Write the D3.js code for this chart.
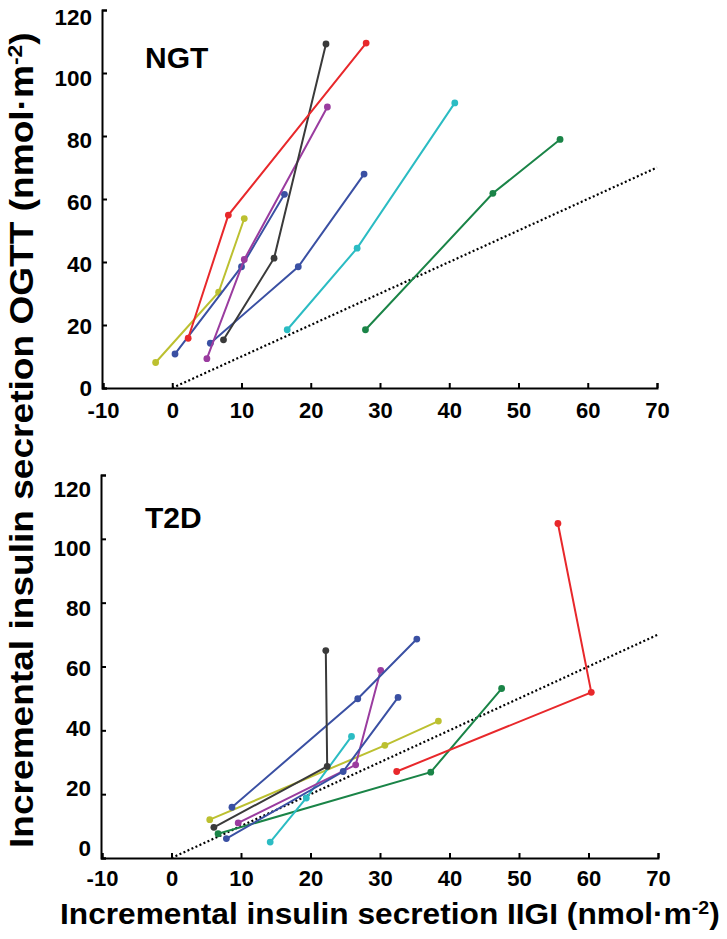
<!DOCTYPE html>
<html>
<head>
<meta charset="utf-8">
<script src="https://cdn.jsdelivr.net/npm/d3@7"></script>
<style>
  html, body { margin: 0; padding: 0; background: #fff; }
  svg { display: block; }
  text { font-family: "Liberation Sans", Arial, sans-serif; font-weight: bold; fill: #000; }
</style>
</head>
<body>
<svg id="chart" width="727" height="939"></svg>
<script>
// ---------- data ----------
const xTicks = [-10, 0, 10, 20, 30, 40, 50, 60, 70];
const yTicks = [0, 20, 40, 60, 80, 100, 120];
const panelNames = ["NGT", "T2D"];
const identityLine = [[0, 0], [70, 70]];

const seriesColors = {
  red: "#e8282b", olive: "#bcc030", blue: "#3a50a3", purple: "#9a3c9f",
  gray: "#3a3a3a", cyan: "#2bbcc3", green: "#1a8447"
};

// NGT panel: points [IIGI, OGTT]
const ngtRed    = [[2.3, 15.8], [8.1, 54.9], [28.0, 109.5]];
const ngtOlive  = [[-2.4, 8.1], [6.7, 30.4], [10.4, 53.8]];
const ngtBlue1  = [[0.4, 10.8], [10.0, 38.5], [16.2, 61.5]];
const ngtPurple = [[5.0, 9.3], [10.4, 40.8], [22.4, 89.2]];
const ngtBlue2  = [[5.5, 14.2], [18.2, 38.5], [27.7, 67.9]];
const ngtGray   = [[7.4, 15.3], [14.7, 41.2], [22.2, 109.2]];
const ngtCyan   = [[16.6, 18.5], [26.7, 44.4], [40.8, 90.5]];
const ngtGreen  = [[27.9, 18.5], [46.3, 61.8], [56.0, 78.9]];

// T2D panel
const t2dGray   = [[6.1, 9.6], [22.4, 28.7], [22.2, 65.0]];
const t2dBlue1  = [[8.7, 15.9], [26.8, 49.9], [35.3, 68.6]];
const t2dBlue2  = [[7.9, 6.1], [24.7, 27.1], [32.6, 50.3]];
const t2dOlive  = [[5.5, 12.0], [30.7, 35.3], [38.4, 42.9]];
const t2dPurple = [[9.6, 11.0], [26.5, 29.2], [30.1, 58.8]];
const t2dCyan   = [[14.2, 5.0], [19.4, 18.8], [25.9, 38.1]];
const t2dGreen  = [[6.7, 7.6], [37.3, 26.9], [47.5, 53.1]];
const t2dRed    = [[32.4, 27.1], [60.4, 51.9], [55.6, 104.8]];

const ngtSeries = [
  { pts: ngtOlive, color: "olive" }, { pts: ngtBlue1, color: "blue" },
  { pts: ngtBlue2, color: "blue" }, { pts: ngtPurple, color: "purple" },
  { pts: ngtGray, color: "gray" }, { pts: ngtRed, color: "red" },
  { pts: ngtCyan, color: "cyan" }, { pts: ngtGreen, color: "green" }
];
const t2dSeries = [
  { pts: t2dGreen, color: "green" }, { pts: t2dOlive, color: "olive" },
  { pts: t2dCyan, color: "cyan" }, { pts: t2dPurple, color: "purple" },
  { pts: t2dBlue2, color: "blue" }, { pts: t2dBlue1, color: "blue" },
  { pts: t2dGray, color: "gray" }, { pts: t2dRed, color: "red" }
];

// ---------- layout ----------
const svg = d3.select("#chart");
const panels = [
  { name: panelNames[0], series: ngtSeries, xr: [103, 657], yr: [388, 10], labY: [387, 16], xLabDy: 22, nameXY: [145, 68] },
  { name: panelNames[1], series: t2dSeries, xr: [102, 658], yr: [858, 475], labY: [847, 488], xLabDy: 20, nameXY: [145, 528] }
];
const FONT = "Liberation Sans, Arial, sans-serif";

panels.forEach(p => {
  const x = d3.scaleLinear().domain([-10, 70]).range(p.xr);
  const y = d3.scaleLinear().domain([0, 120]).range(p.yr);
  const yLab = d3.scaleLinear().domain([0, 120]).range(p.labY);
  const g = svg.append("g");

  // identity dotted line
  g.append("path")
    .attr("d", d3.line().x(d => x(d[0])).y(d => y(d[1]))(identityLine))
    .attr("fill", "none").attr("stroke", "#000").attr("stroke-width", 2.2)
    .attr("stroke-dasharray", "2,2.4");

  // series
  const line = d3.line().x(d => x(d[0])).y(d => y(d[1]));
  p.series.forEach(s => {
    const c = seriesColors[s.color];
    g.append("path").attr("d", line(s.pts))
      .attr("fill", "none").attr("stroke", c).attr("stroke-width", 2);
    g.selectAll(null).data(s.pts).enter().append("circle")
      .attr("cx", d => x(d[0])).attr("cy", d => y(d[1])).attr("r", 3.4)
      .attr("fill", c);
  });

  // x axis
  const xa = g.append("g").attr("transform", `translate(0,${p.yr[0]})`)
    .call(d3.axisBottom(x).tickValues(xTicks).tickSize(-5).tickSizeOuter(-5).tickFormat(d => String(d)));
  xa.selectAll("path, line").attr("stroke", "#000").attr("stroke-width", 2);
  xa.selectAll("text").attr("y", p.xLabDy).attr("dy", "0.36em")
    .attr("font-size", 22).attr("font-family", FONT).attr("font-weight", "bold");

  // y axis
  const ya = g.append("g").attr("transform", `translate(${p.xr[0] - 1},0)`)
    .call(d3.axisLeft(y).tickValues(yTicks).tickSize(-5).tickSizeOuter(-5).tickFormat(d => String(d)));
  ya.selectAll("path, line").attr("stroke", "#000").attr("stroke-width", 2);
  ya.selectAll("text").attr("x", -10).attr("y", d => yLab(d) - y(d)).attr("dy", "0.36em")
    .attr("font-size", 22.5).attr("font-family", FONT).attr("font-weight", "bold");

  // panel name
  svg.append("text").attr("x", p.nameXY[0]).attr("y", p.nameXY[1])
    .attr("font-size", 30).text(p.name);
});

// ---------- axis titles ----------
function titled(sel, main, sup, tail) {
  sel.append("tspan").text(main);
  sel.append("tspan").attr("font-size", "0.62em").attr("baseline-shift", "super").text(sup);
  sel.append("tspan").text(tail);
}

const xt = svg.append("text").attr("font-size", 29).attr("text-anchor", "start");
titled(xt, "Incremental insulin secretion IIGI (nmol\u00b7m", "-2", ")");
{
  const w = xt.node().getBBox().width;
  const sx = 660 / w;
  xt.attr("transform", `translate(60,924) scale(${sx},1)`);
}

const yt = svg.append("text").attr("font-size", 33).attr("text-anchor", "start");
titled(yt, "Incremental insulin secretion OGTT (nmol\u00b7m", "-2", ")");
{
  const w = yt.node().getBBox().width;
  const sx = 816 / w;
  yt.attr("transform", `translate(33,848) rotate(-90) scale(${sx},1)`);
}
</script>
</body>
</html>
